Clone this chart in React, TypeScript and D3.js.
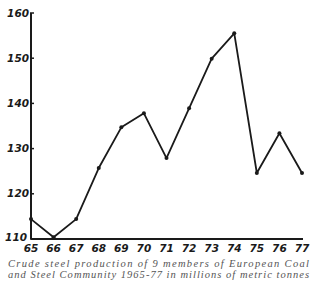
import React from "react";
import * as d3 from "d3";

const years = [65, 66, 67, 68, 69, 70, 71, 72, 73, 74, 75, 76, 77];
const production = [114.4, 110.4, 114.4, 125.7, 134.7, 137.8, 127.9, 138.9, 149.9, 155.5, 124.6, 133.4, 124.6];
const yTicks = [110, 120, 130, 140, 150, 160];
const captionLines = [
  "Crude steel production of 9 members of European Coal",
  "and Steel Community 1965-77 in millions of metric tonnes",
];

export default function App() {
  const x = d3.scaleLinear().domain([65, 77]).range([31, 302]);
  const y = d3.scaleLinear().domain([110, 160]).range([239, 13]);
  const line = d3
    .line<number>()
    .x((_, i) => x(years[i]))
    .y((d) => y(d));
  const hand = "'DejaVu Sans', sans-serif";
  return (
    <svg
      width={320}
      height={288}
      style={{ position: "absolute", left: 0, top: 0, background: "#fff" }}
    >
      <line x1={x(65)} y1={y(160)} x2={x(65)} y2={y(110)} stroke="#1a1a1a" strokeWidth={2} />
      <line x1={x(65)} y1={y(110)} x2={x(77) + 1} y2={y(110)} stroke="#1a1a1a" strokeWidth={2} />
      {yTicks.map((t) => (
        <g key={t}>
          <line x1={x(65) - 1} x2={x(65) + 3} y1={y(t)} y2={y(t)} stroke="#1a1a1a" strokeWidth={1.5} />
          <text
            x={t === 110 ? 27 : 29}
            y={y(t)}
            dy={t === 110 ? "0.2em" : "0.35em"}
            textAnchor="end"
            fontFamily={hand}
            fontStyle="italic"
            fontWeight="bold"
            fontSize={10.5}
            fill="#1a1a1a"
          >
            {t}
          </text>
        </g>
      ))}
      {years.map((yr) => (
        <text
          key={yr}
          x={x(yr)}
          y={248}
          dy="0.35em"
          textAnchor="middle"
          fontFamily={hand}
          fontStyle="italic"
          fontWeight="bold"
          fontSize={10.5}
          fill="#1a1a1a"
        >
          {yr}
        </text>
      ))}
      <path d={line(production) || ""} fill="none" stroke="#1a1a1a" strokeWidth={1.8} strokeLinejoin="round" />
      {production.map((v, i) => (
        <circle key={i} cx={x(years[i])} cy={y(v)} r={2} fill="#1a1a1a" />
      ))}
      {captionLines.map((l, i) => (
        <text
          key={i}
          x={8}
          y={267 + i * 10.5}
          textLength={301}
          lengthAdjust="spacing"
          fontFamily="'Liberation Serif', serif"
          fontStyle="italic"
          fontSize={10.5}
          fill="#555"
        >
          {l}
        </text>
      ))}
    </svg>
  );
}
